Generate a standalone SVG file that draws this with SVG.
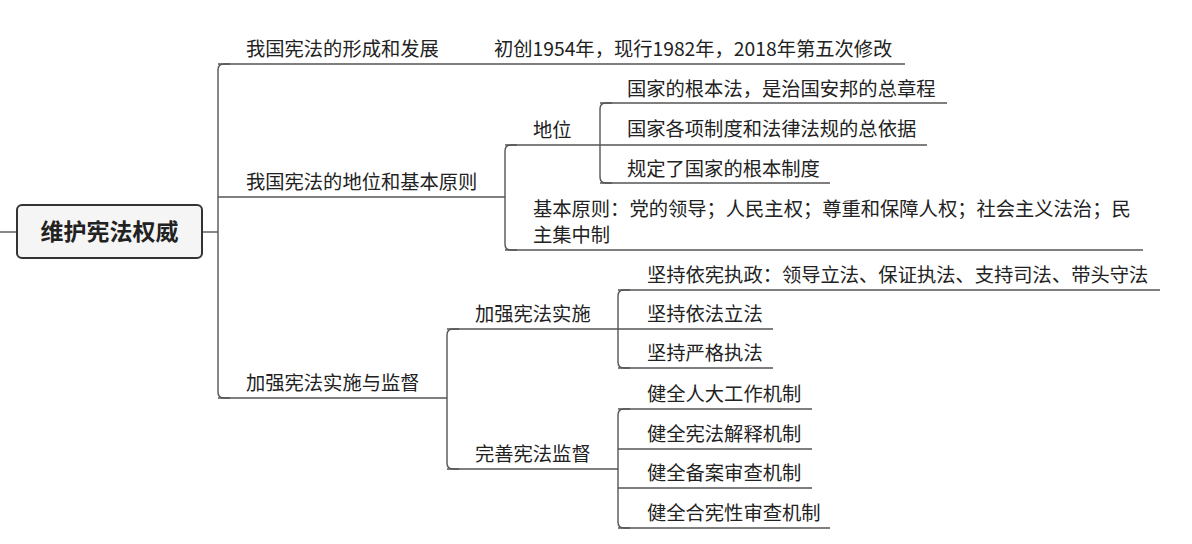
<svg xmlns="http://www.w3.org/2000/svg" width="1192" height="544" viewBox="0 0 1192 544">
<style>
.t{font-family:"Microsoft YaHei","Noto Sans CJK SC","Noto Sans",sans-serif;font-size:19.3px;fill:#222}
.u{stroke:#555;stroke-width:1.4;fill:none}
.c{stroke:#555;stroke-width:1.4;fill:none}
.root{font-family:"Microsoft YaHei","Noto Sans CJK SC",sans-serif;font-size:23px;font-weight:bold;fill:#222}
</style>
<rect width="1192" height="544" fill="#fff"/>
<g id="connectors">
<path class="c" d="M0,232 H17"/>
<path class="c" d="M202,232 H218"/>
<path class="c" d="M230,64 H224 Q218,64 218,70 V392 Q218,398 224,398 H230"/>
<path class="c" d="M517,145 H511 Q505,145 505,151 V244 Q505,250 511,250 H517"/>
<path class="c" d="M612,103 H606 Q600,103 600,109 V177 Q600,183 606,183 H612"/>
<path class="c" d="M459,329 H453 Q447,329 447,335 V463 Q447,469 453,469 H459"/>
<path class="c" d="M630,290 H624 Q618,290 618,296 V362 Q618,368 624,368 H630"/>
<path class="c" d="M630,409 H624 Q618,409 618,415 V522 Q618,528 624,528 H630"/>
</g>
<g id="root">
<rect x="17" y="205" width="185" height="53" rx="5" fill="#f5f5f5" stroke="#333" stroke-width="2"/>
<text class="root" x="109.5" y="240" text-anchor="middle">维护宪法权威</text>
</g>
<g id="n1">
<text class="t" x="246" y="56">我国宪法的形成和发展</text>
<path class="u" d="M218,64 H483"/>
</g>
<g id="n1a">
<text class="t" x="494" y="56">初创1954年，现行1982年，2018年第五次修改</text>
<path class="u" d="M483,64 H905"/>
</g>
<g id="n2">
<text class="t" x="246" y="189">我国宪法的地位和基本原则</text>
<path class="u" d="M218,197 H505"/>
</g>
<g id="n2a">
<text class="t" x="533" y="137">地位</text>
<path class="u" d="M505,145 H600"/>
</g>
<g id="n2a1">
<text class="t" x="627" y="96">国家的根本法，是治国安邦的总章程</text>
<path class="u" d="M600,103 H947"/>
</g>
<g id="n2a2">
<text class="t" x="627" y="136">国家各项制度和法律法规的总依据</text>
<path class="u" d="M600,145 H927"/>
</g>
<g id="n2a3">
<text class="t" x="627" y="176">规定了国家的根本制度</text>
<path class="u" d="M600,183 H830"/>
</g>
<g id="n2b">
<text class="t" x="533" y="216">基本原则：党的领导；人民主权；尊重和保障人权；社会主义法治；民</text>
<text class="t" x="533" y="242">主集中制</text>
<path class="u" d="M505,250 H1143"/>
</g>
<g id="n3">
<text class="t" x="246" y="390">加强宪法实施与监督</text>
<path class="u" d="M218,398 H447"/>
</g>
<g id="n3a">
<text class="t" x="475" y="321">加强宪法实施</text>
<path class="u" d="M447,329 H618"/>
</g>
<g id="n3a1">
<text class="t" x="647" y="282">坚持依宪执政：领导立法、保证执法、支持司法、带头守法</text>
<path class="u" d="M618,290 H1160"/>
</g>
<g id="n3a2">
<text class="t" x="647" y="321">坚持依法立法</text>
<path class="u" d="M618,329 H773"/>
</g>
<g id="n3a3">
<text class="t" x="647" y="360">坚持严格执法</text>
<path class="u" d="M618,368 H773"/>
</g>
<g id="n3b">
<text class="t" x="475" y="461">完善宪法监督</text>
<path class="u" d="M447,469 H618"/>
</g>
<g id="n3b1">
<text class="t" x="647" y="401">健全人大工作机制</text>
<path class="u" d="M618,409 H812"/>
</g>
<g id="n3b2">
<text class="t" x="647" y="441">健全宪法解释机制</text>
<path class="u" d="M618,449 H812"/>
</g>
<g id="n3b3">
<text class="t" x="647" y="480">健全备案审查机制</text>
<path class="u" d="M618,488 H812"/>
</g>
<g id="n3b4">
<text class="t" x="647" y="520">健全合宪性审查机制</text>
<path class="u" d="M618,528 H830"/>
</g>
</svg>
